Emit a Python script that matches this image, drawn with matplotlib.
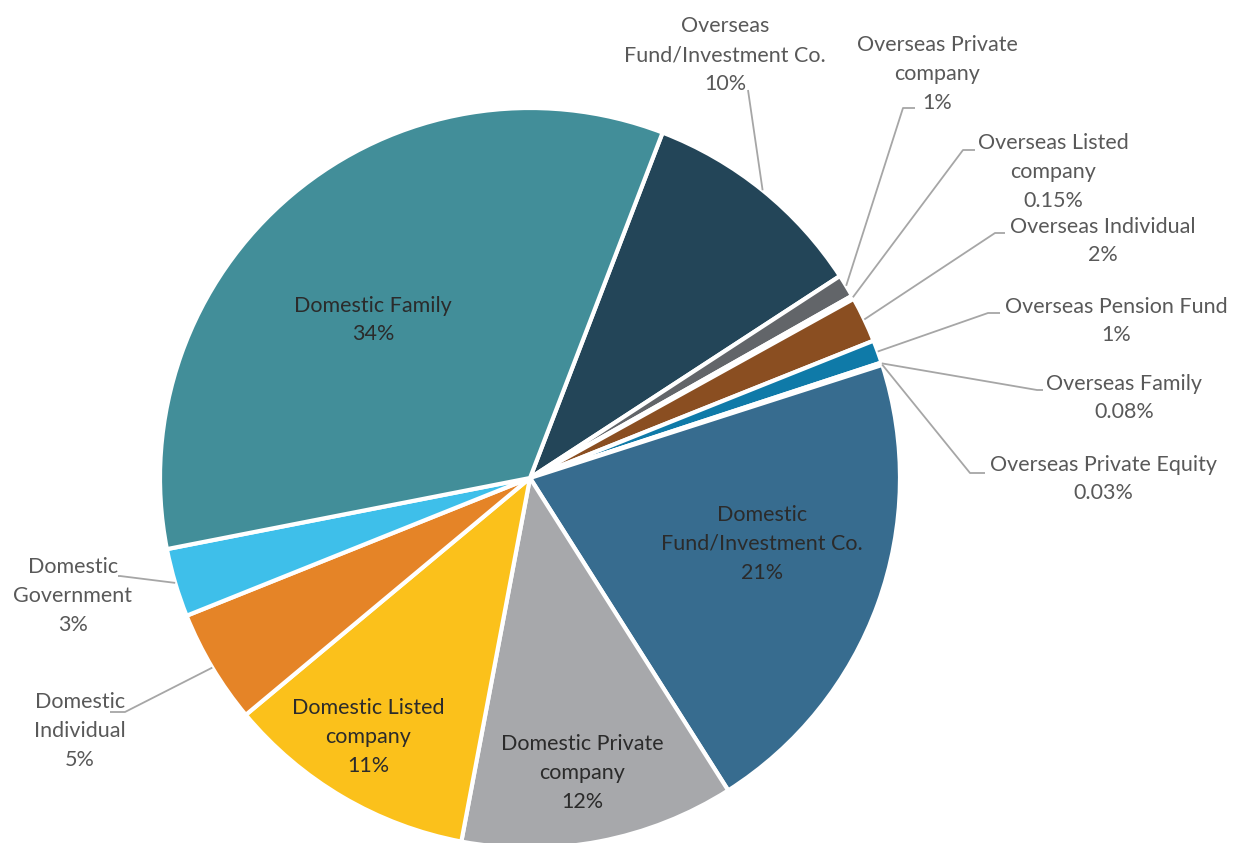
import numpy as np
import matplotlib.pyplot as plt

# Shareholder breakdown by investor type (percent of total)
names = [
    "Overseas\nFund/Investment Co.",
    "Overseas Private\ncompany",
    "Overseas Listed\ncompany",
    "Overseas Individual",
    "Overseas Pension Fund",
    "Overseas Family",
    "Overseas Private Equity",
    "Domestic\nFund/Investment Co.",
    "Domestic Private\ncompany",
    "Domestic Listed\ncompany",
    "Domestic\nIndividual",
    "Domestic\nGovernment",
    "Domestic Family",
]
shares = [10, 1, 0.15, 2, 1, 0.08, 0.03, 21, 12, 11, 5, 3, 34]
colors = [
    "#234558", "#626569", "#ffffff", "#8a4e21", "#0f7aa8", "#ffffff", "#ffffff",
    "#376c8f", "#a7a8ab", "#fbc11b", "#e58427", "#3ebfea", "#428e99",
]

# label layout in pixel coords (x, y from top): text centre, elbow, end of leader
inside = {
    "Domestic Family": (373, 320),
    "Domestic\nFund/Investment Co.": (762, 544),
    "Domestic Private\ncompany": (582, 773),
    "Domestic Listed\ncompany": (368, 737),
}
outside = {
    "Overseas\nFund/Investment Co.": ((725, 55), (748, 90), (748, 90)),
    "Overseas Private\ncompany": ((937, 74), (903, 108), (915, 108)),
    "Overseas Listed\ncompany": ((1053, 172), (963, 150), (975, 150)),
    "Overseas Individual": ((1103, 241), (995, 233), (1005, 233)),
    "Overseas Pension Fund": ((1116, 321), (988, 313), (1000, 313)),
    "Overseas Family": ((1124, 398), (1037, 390), (1043, 390)),
    "Overseas Private Equity": ((1103, 479), (970, 473), (985, 473)),
    "Domestic\nGovernment": ((73, 596), (120, 576), (118, 576)),
    "Domestic\nIndividual": ((80, 731), (125, 712), (110, 712)),
}

W, H = 1233, 843
cx, cy, R = 530, 478, 370

plt.rcParams["font.family"] = ["Lato", "DejaVu Sans"]

fig = plt.figure(figsize=(W / 100, H / 100), dpi=100)
ax = fig.add_axes([0, 0, 1, 1])

wedges, _ = ax.pie(
    shares,
    colors=colors,
    startangle=69,
    counterclock=False,
    center=(cx, H - cy),
    radius=R,
    wedgeprops=dict(edgecolor="white", linewidth=3),
)
ax.set_xlim(0, W)
ax.set_ylim(0, H)
ax.set_aspect("auto")
ax.axis("off")

for name, val, w in zip(names, shares, wedges):
    label = f"{name}\n{val:g}%"
    if name in inside:
        tx, ty = inside[name]
        ax.text(tx, H - ty, label, ha="center", va="center", fontsize=15.5,
                color="#2b2b2b", linespacing=1.55)
        continue
    (tx, ty), (ex, ey), (fx, fy) = outside[name]
    mid = np.deg2rad((w.theta1 + w.theta2) / 2)
    sx = cx + R * np.cos(mid)
    sy = H - cy + R * np.sin(mid)
    ax.plot([sx, ex, fx], [sy, H - ey, H - fy], color="#a6a6a6", lw=1.3,
            solid_capstyle="butt")
    ax.text(tx, H - ty, label, ha="center", va="center", fontsize=15.5,
            color="#595959", linespacing=1.55)

plt.savefig("out.png", dpi=100)
plt.close()
